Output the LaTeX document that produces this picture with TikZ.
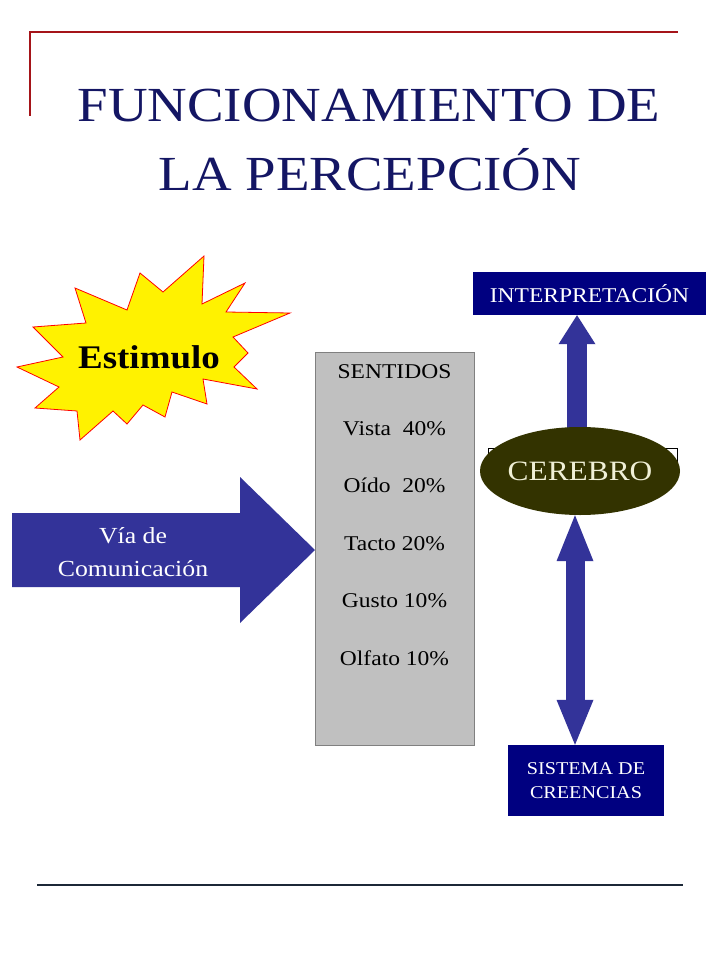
\documentclass[tikz,border=0pt]{standalone}
\usepackage{fontspec}
\setmainfont{Liberation Serif}[FakeStretch=1.12]
\usetikzlibrary{arrows.meta,shapes.geometric,backgrounds,calc}
\definecolor{titleblue}{RGB}{20,22,100}
\definecolor{redline}{RGB}{165,20,25}
\definecolor{arrowblue}{RGB}{51,51,153}
\definecolor{navybox}{RGB}{0,0,128}
\definecolor{brainolive}{RGB}{51,51,0}
\definecolor{cream}{RGB}{240,240,215}
\definecolor{sensegray}{RGB}{192,192,192}
\definecolor{senseedge}{RGB}{128,128,128}
\definecolor{bottomline}{RGB}{28,40,55}
\newcommand{\setfs}[2][]{\fontsize{#2}{#2}\selectfont}

\begin{document}
\begin{tikzpicture}[x=1pt,y=-1pt,
	navylabel/.style={fill=navybox,text=white,inner sep=0pt,align=center},
	sense/.style={font=\setfs{21},inner sep=0pt,anchor=base},
	fatarrow/.style={draw=arrowblue,line width=20pt}]
			%%%%% START %%%%%
			
			\useasboundingbox (0,0) rectangle (720,960);
			
			\draw[redline,line width=2.5pt] (30,116) -- (30,32) -- (678,32);
			
			\node[titleblue,font=\setfs{49},anchor=base] (title1) at (369,122) {FUNCIONAMIENTO DE};
			\node[titleblue,font=\setfs{49},anchor=base] (title2) at (370,190) {LA PERCEPCIÓN};
			
			% estimulo
			\draw[fill=yellow,draw=red,line width=0.8pt] (204,256) -- (202,304) -- (245,283) -- (226,312) -- (290,313) -- (233,337) -- (248,353) -- (234,367) -- (257,389) -- (203,379) -- (207,404) -- (172,392) -- (165,417) -- (143,405) -- (127,424) -- (113,411) -- (80,440) -- (77,411) -- (35,408) -- (59,387) -- (17,367) -- (63,357) -- (33,327) -- (86,323) -- (75,288) -- (127,310) -- (140,273) -- (163,292) -- cycle;
			\node[font=\bfseries\setfs{33}] (estimulo) at (149,357) {Estimulo};
			
			% via de comunicacion
			\fill[arrowblue] (12,513) -- (240,513) -- (240,477) -- (315,550) -- (240,623) -- (240,587) -- (12,587) -- cycle;
			\node[text=white,font=\fontsize{23}{33}\selectfont,align=center,inner sep=0pt] (viatext) at (133,552) {Vía de\\Comunicación};
			
			% sentidos
			\node[fill=sensegray,draw=senseedge,line width=0.8pt,minimum width=159pt,minimum height=393pt,inner sep=0pt] (sentidos) at (394.5,548.5) {};
			\foreach \t [count=\i from 0] in {SENTIDOS,{Vista\ \ 40\%},{Oído\ \ 20\%},{Tacto 20\%},{Gusto 10\%},{Olfato 10\%}}
				\node[sense] (sense\i) at (394.5,378+57.4*\i) {\t};
			
			% cerebro
			\draw[line width=0.6pt] (488,448) rectangle (677,476);
			\node[ellipse,fill=brainolive,minimum width=200pt,minimum height=88pt,inner sep=-14pt,text=cream,font=\setfs{28}] (cerebro) at (580,471) {CEREBRO};
			
			\node[navylabel,minimum width=233pt,minimum height=43pt,font=\setfs{21}] (interp) at (589.5,293.5) {INTERPRETACIÓN};
			\node[navylabel,minimum width=156pt,minimum height=71pt,font=\fontsize{18}{24}\selectfont] (creencias) at (586,780.5) {SISTEMA DE\\CREENCIAS};
			
			\begin{pgfonlayer}{background}
				\fill[white] (0,0) rectangle (720,960);
				\draw[fatarrow,-{Triangle[width=37pt,length=29pt,line width=0pt]}] ($(cerebro.center)+(-3,0)$) -- ($(cerebro.center |- interp.south)+(-3,0)$);
			\end{pgfonlayer}
			\draw[fatarrow,line width=19pt,{Triangle[width=37pt,length=46pt,line width=0pt]}-{Triangle[width=37pt,length=45pt,line width=0pt]}] ($(cerebro.south)+(-5,0)$) -- ($(cerebro.south |- creencias.north)+(-5,0)$);
			
			\draw[bottomline,line width=2pt] (37,885) -- (683,885);
			
			%%%%% END %%%%%
\end{tikzpicture}
\end{document}
